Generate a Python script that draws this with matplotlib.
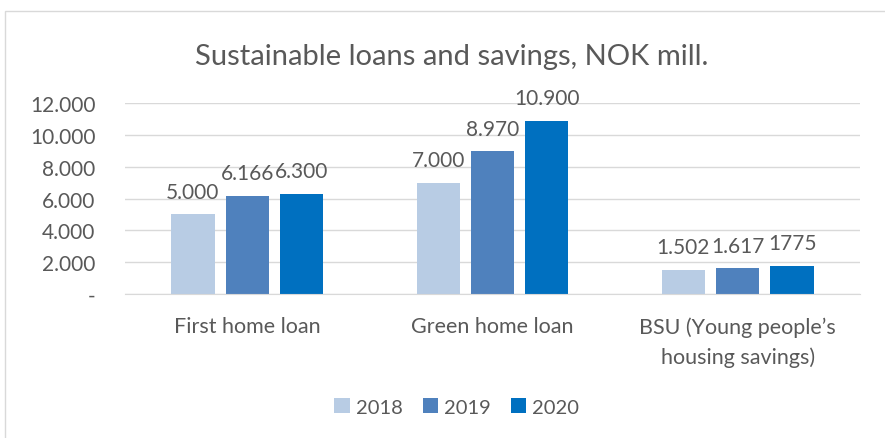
import numpy as np
import matplotlib.pyplot as plt
from matplotlib.patches import Rectangle

categories = ["First home loan", "Green home loan", "BSU (Young people\u2019s\nhousing savings)"]
years = ["2018", "2019", "2020"]
values_2018 = [5000, 7000, 1502]
values_2019 = [6166, 8970, 1617]
values_2020 = [6300, 10900, 1775]
labels_2018 = ["5.000", "7.000", "1.502"]
labels_2019 = ["6.166", "8.970", "1.617"]
labels_2020 = ["6.300", "10.900", "1775"]
yticks = [0, 2000, 4000, 6000, 8000, 10000, 12000]
ytick_labels = ["-", "2.000", "4.000", "6.000", "8.000", "10.000", "12.000"]

colors = ["#B8CCE4", "#4F81BD", "#0070C0"]
text_col = "#595959"
plt.rcParams['font.family'] = ['Lato', 'DejaVu Sans']

fig = plt.figure(figsize=(8.85, 4.39), dpi=100)
fig.patches.append(Rectangle((0.006, -0.05), 1.1, 1.023, transform=fig.transFigure,
                             fill=False, edgecolor="#D9D9D9", linewidth=1))

ax = fig.add_axes([0.141, 0.328, 0.831, 0.435])
x = np.arange(len(categories))
width = 0.176
step = 0.222

series = [values_2018, values_2019, values_2020]
labels = [labels_2018, labels_2019, labels_2020]
for i in range(3):
    bars = ax.bar(x + (i - 1) * step, series[i], width, color=colors[i], label=years[i], zorder=2)
    for b, lab in zip(bars, labels[i]):
        ax.annotate(lab, (b.get_x() + b.get_width() / 2, b.get_height()), xytext=(0, 12),
                    textcoords="offset points", ha="center", va="baseline",
                    fontsize=15, color=text_col, annotation_clip=False)

ax.set_xlim(-0.5, 2.5)
ax.set_ylim(0, 12000)
ax.set_yticks(yticks)
ax.set_yticklabels(ytick_labels)
ax.yaxis.grid(True, color="#D9D9D9", linewidth=1, zorder=0)
ax.set_xticks(x)
ax.set_xticklabels(categories, linespacing=1.6)
ax.tick_params(axis="both", length=0, labelcolor=text_col)
ax.tick_params(axis="y", labelsize=15, pad=21)
ax.tick_params(axis="x", labelsize=15.5, pad=16)
for s in ["top", "right", "left"]:
    ax.spines[s].set_visible(False)
ax.spines["bottom"].set_color("#D9D9D9")

fig.text(0.51, 0.87, "Sustainable loans and savings, NOK mill.", ha="center", va="center",
         fontsize=21, color=text_col)
fig.legend(loc="center", bbox_to_anchor=(0.516, 0.071), ncol=3, frameon=False, fontsize=14.5,
           handlelength=0.75, handleheight=0.75, handletextpad=0.3, columnspacing=1.0,
           labelcolor=text_col)

plt.savefig("out.png", dpi=100)
